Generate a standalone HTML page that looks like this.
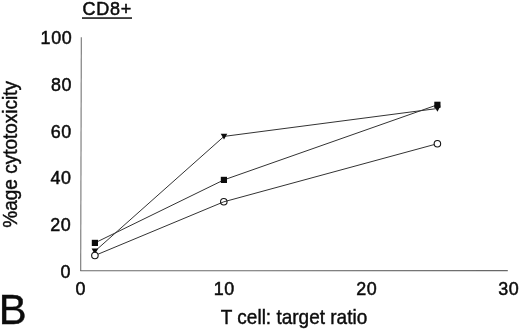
<!DOCTYPE html>
<html><head><meta charset="utf-8"><style>
html,body{margin:0;padding:0;background:#fff;}
svg{display:block;}
text{font-family:"Liberation Sans",sans-serif;fill:#0c0c0c;stroke:#0c0c0c;}
</style></head><body>
<svg width="520" height="330" viewBox="0 0 520 330" xmlns="http://www.w3.org/2000/svg">
<rect width="520" height="330" fill="#fff"/>
<line x1="81.300" y1="37.200" x2="80.700" y2="271.100" stroke="#707070" stroke-width="1.050"/>
<line x1="80.300" y1="270.750" x2="507.800" y2="270.600" stroke="#686868" stroke-width="1.100"/>
<polyline points="94.9,242.9 223.9,179.9 437.4,104.8" fill="none" stroke="#333" stroke-width="1"/>
<polyline points="94.9,251.2 224.0,136.4 437.4,108.5" fill="none" stroke="#333" stroke-width="1"/>
<polyline points="94.9,255.5 223.8,201.8 437.4,143.7" fill="none" stroke="#333" stroke-width="1"/>
<rect x="91.8" y="239.8" width="6.200" height="6.200" fill="#0c0c0c"/>
<rect x="220.8" y="176.8" width="6.200" height="6.200" fill="#0c0c0c"/>
<rect x="434.3" y="101.7" width="6.200" height="6.200" fill="#0c0c0c"/>
<polygon points="91.6,248.5 98.2,248.5 94.9,254.4" fill="#0c0c0c"/>
<polygon points="220.7,133.7 227.3,133.7 224.0,139.6" fill="#0c0c0c"/>
<polygon points="434.1,105.8 440.7,105.8 437.4,111.7" fill="#0c0c0c"/>
<circle cx="94.9" cy="255.5" r="3.250" fill="#fff" stroke="#151515" stroke-width="1.100"/>
<circle cx="223.8" cy="201.8" r="3.250" fill="none" stroke="#151515" stroke-width="1.100"/>
<circle cx="437.4" cy="143.7" r="3.250" fill="#fff" stroke="#151515" stroke-width="1.100"/>
<text transform="translate(82.50,15.20) scale(1.0,1.03)" x="0.00" font-size="18" letter-spacing="0.75" stroke-width="0.5" text-anchor="start">CD8+</text>
<rect x="82" y="17.300" width="50" height="1.500" fill="#0c0c0c"/>
<text transform="translate(71.70,44.40) scale(1.0,1.0)" x="0.65" font-size="17.9" letter-spacing="0.65" stroke-width="0.5" text-anchor="end">100</text>
<text transform="translate(71.46,91.04) scale(1.0,1.0)" x="0.65" font-size="17.9" letter-spacing="0.65" stroke-width="0.5" text-anchor="end">80</text>
<text transform="translate(71.22,137.68) scale(1.0,1.0)" x="0.65" font-size="17.9" letter-spacing="0.65" stroke-width="0.5" text-anchor="end">60</text>
<text transform="translate(70.98,184.32) scale(1.0,1.0)" x="0.65" font-size="17.9" letter-spacing="0.65" stroke-width="0.5" text-anchor="end">40</text>
<text transform="translate(70.74,230.96) scale(1.0,1.0)" x="0.65" font-size="17.9" letter-spacing="0.65" stroke-width="0.5" text-anchor="end">20</text>
<text transform="translate(70.50,277.60) scale(1.0,1.0)" x="0.65" font-size="17.9" letter-spacing="0.65" stroke-width="0.5" text-anchor="end">0</text>
<text transform="translate(80.50,295.30) scale(1.0,1.0)" x="0.33" font-size="17.9" letter-spacing="0.65" stroke-width="0.5" text-anchor="middle">0</text>
<text transform="translate(223.90,295.30) scale(1.0,1.0)" x="0.33" font-size="17.9" letter-spacing="0.65" stroke-width="0.5" text-anchor="middle">10</text>
<text transform="translate(366.40,295.30) scale(1.0,1.0)" x="0.33" font-size="17.9" letter-spacing="0.65" stroke-width="0.5" text-anchor="middle">20</text>
<text transform="translate(508.40,295.30) scale(1.0,1.0)" x="0.33" font-size="17.9" letter-spacing="0.65" stroke-width="0.5" text-anchor="middle">30</text>
<text transform="translate(294.00,323.60) scale(1.0,1.04)" x="0.00" font-size="19" letter-spacing="0" stroke-width="0.4" text-anchor="middle">T cell: target ratio</text>
<text transform="translate(17.00,154.30) rotate(-90) scale(1.0,1.04)" x="0.00" font-size="19" letter-spacing="0" stroke-width="0.4" text-anchor="middle">%age cytotoxicity</text>
<text transform="translate(-1.30,324.20) scale(1.0,1.0)" x="0.00" font-size="41.8" letter-spacing="0" stroke-width="0.4" text-anchor="start">B</text>
</svg>
</body></html>
